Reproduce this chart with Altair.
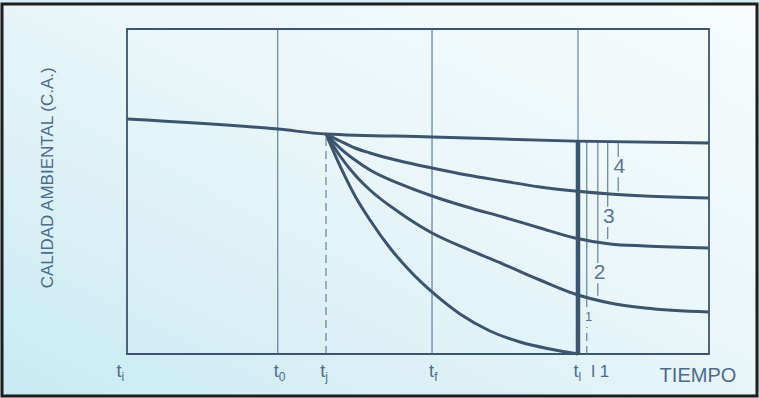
import altair as alt
import pandas as pd

# ---------------- data (x: time units 0..100 across the frame, y: quality units 0..100) -------------
main_x = [0.0, 25.9, 34.19, 52.41, 76.98, 100.0]
main_y = [72.3, 69.2, 67.69, 66.8, 65.5, 64.9]

curve_x = [34.19, 36.60, 39.18, 41.75, 46.91, 52.41, 58.42, 64.60, 70.96, 76.98, 82.99, 89.00, 100.0]
curve4_y = [67.69, 65.54, 63.38, 61.85, 59.38, 57.23, 55.08, 53.23, 51.38, 50.15, 49.23, 48.62, 48.0]
curve3_y = [67.69, 63.38, 59.69, 56.62, 52.31, 48.62, 45.23, 42.15, 38.77, 35.69, 33.85, 33.23, 32.62]
curve2_y = [67.69, 60.92, 55.08, 50.46, 43.38, 37.23, 32.31, 27.69, 22.77, 18.46, 15.69, 14.15, 12.92]
curve1_x = [34.19, 36.60, 39.18, 41.75, 45.19, 48.63, 52.41, 57.22, 62.37, 67.53, 72.68, 77.49]
curve1_y = [67.69, 57.85, 48.62, 41.23, 32.62, 25.54, 19.08, 12.31, 7.08, 3.69, 1.54, 0.0]

tick_main = ["t", "t", "t", "t", "t"]
tick_sub = ["i", "0", "j", "f", "l"]
tick_pos = [-1.1, 25.9, 33.9, 52.6, 77.4]

# reference verticals: x, y-from, y-to
thin_x = [25.9, 52.41, 77.49, 79.0, 80.9, 80.9, 82.6, 82.6, 84.4, 84.4]
thin_y = [0.0, 0.0, 65.5, 14.5, 28.0, 17.9, 45.3, 35.4, 60.6, 50.0]
thin_y2 = [100.0, 100.0, 100.0, 65.2, 65.2, 21.8, 65.2, 39.1, 65.2, 54.4]
dash_x = [34.19, 79.0]
dash_y = [0.0, 0.0]
dash_y2 = [67.69, 8.3]
thick_x = [77.49]
thick_y = [0.0]
thick_y2 = [65.5]

num_text = ["4", "3", "2", "1"]
num_x = [84.6, 82.8, 81.2, 79.3]
num_y = [57.5, 42.2, 24.9, 11.4]
num_size = [21, 21, 21, 13]

# ---------------- tables ----------------
rows = []
for x, y in zip(main_x, main_y):
    rows.append({"serie": "sin", "x": x, "y": y})
for name, ys_ in [("4", curve4_y), ("3", curve3_y), ("2", curve2_y)]:
    for x, y in zip(curve_x, ys_):
        rows.append({"serie": name, "x": x, "y": y})
for x, y in zip(curve1_x, curve1_y):
    rows.append({"serie": "1", "x": x, "y": y})
lines_df = pd.DataFrame(rows)

thin_df = pd.DataFrame({"x": thin_x, "y": thin_y, "y2": thin_y2})
dash_df = pd.DataFrame({"x": dash_x, "y": dash_y, "y2": dash_y2})
thick_df = pd.DataFrame({"x": thick_x, "y": thick_y, "y2": thick_y2})
ticks_df = pd.DataFrame({"main": tick_main, "sub": tick_sub, "x": tick_pos})
nums_df = pd.DataFrame({"t": num_text, "x": num_x, "y": num_y, "s": num_size})
frame_df = pd.DataFrame({"x": [0.0], "x2": [100.0], "y": [0.0], "y2": [100.0]})
one_df = pd.DataFrame({"a": [0]})

LINE = "#3c546d"
THIN = "#5a7690"
TEXT = "#4d6b8a"

xs = alt.Scale(domain=[0, 100], nice=False, zero=False)
ys = alt.Scale(domain=[0, 100], nice=False, zero=False)


def X(f="x"):
    return alt.X(f"{f}:Q", scale=xs, axis=None)


def Y(f="y"):
    return alt.Y(f"{f}:Q", scale=ys, axis=None)


bg = alt.Chart(one_df).mark_rect(
    fill=alt.LinearGradient(
        gradient="linear",
        stops=[alt.GradientStop(color="#f7fbfc", offset=0),
               alt.GradientStop(color="#eaf6f9", offset=0.45),
               alt.GradientStop(color="#c8eaf2", offset=1)],
        x1=1, y1=0, x2=0, y2=1),
    stroke="#1d1d1d", strokeWidth=3,
).encode(x=alt.value(-125), x2=alt.value(630), y=alt.value(-25), y2=alt.value(367))

frame = alt.Chart(frame_df).mark_rect(fill=None, stroke=LINE, strokeWidth=1.8).encode(
    x=X(), x2="x2:Q", y=Y(), y2="y2:Q")

thin = alt.Chart(thin_df).mark_rule(color=THIN, strokeWidth=1.1).encode(x=X(), y=Y(), y2="y2:Q")
dash = alt.Chart(dash_df).mark_rule(color=THIN, strokeWidth=1.1, strokeDash=[8, 5]).encode(x=X(), y=Y(), y2="y2:Q")
thick = alt.Chart(thick_df).mark_rule(color=LINE, strokeWidth=4.5).encode(x=X(), y=Y(), y2="y2:Q")

curves = alt.Chart(lines_df).mark_line(interpolate="monotone", strokeWidth=3, color=LINE).encode(
    x=X(), y=Y(), detail="serie:N")

nums = alt.Chart(nums_df).mark_text(color=THIN, font="Liberation Sans", align="center", baseline="middle").encode(
    x=X(), y=Y(), text="t:N", size=alt.Size("s:Q", scale=None))

tmain = alt.Chart(ticks_df).transform_calculate(ty="-7.1").mark_text(
    color=TEXT, font="Liberation Sans", fontSize=18, align="right", baseline="alphabetic", dx=1).encode(
    x=X(), y=Y("ty"), text="main:N")
tsub = alt.Chart(ticks_df).transform_calculate(ty="-8.4").mark_text(
    color=TEXT, font="Liberation Sans", fontSize=12, align="left", baseline="alphabetic", dx=1).encode(
    x=X(), y=Y("ty"), text="sub:N")

extra = alt.Chart(pd.DataFrame({"t": ["l  1", "TIEMPO"], "x": [81.3, 98.1], "y": [-7.1, -8.6],
                                "s": [17, 20]})).mark_text(
    color=TEXT, font="Liberation Sans", align="center", baseline="alphabetic").encode(
    x=X(), y=Y(), text="t:N", size=alt.Size("s:Q", scale=None))

ytitle = alt.Chart(pd.DataFrame({"t": ["CALIDAD AMBIENTAL (C.A.)"], "x": [-13.6], "y": [54.2]})).mark_text(
    color=TEXT, font="Liberation Sans", fontSize=17, angle=270, align="center", baseline="middle").encode(
    x=X(), y=Y(), text="t:N")

chart = alt.layer(bg, frame, thin, dash, thick, curves, nums, tmain, tsub, extra, ytitle).properties(
    width=582, height=325,
    autosize=alt.AutoSizeParams(type="none"),
    padding={"left": 127, "top": 29, "right": 50, "bottom": 44},
    background="#d6eef3",
).configure_view(stroke=None)

chart.save("out.html", embed_options={"renderer": "svg", "actions": False})
